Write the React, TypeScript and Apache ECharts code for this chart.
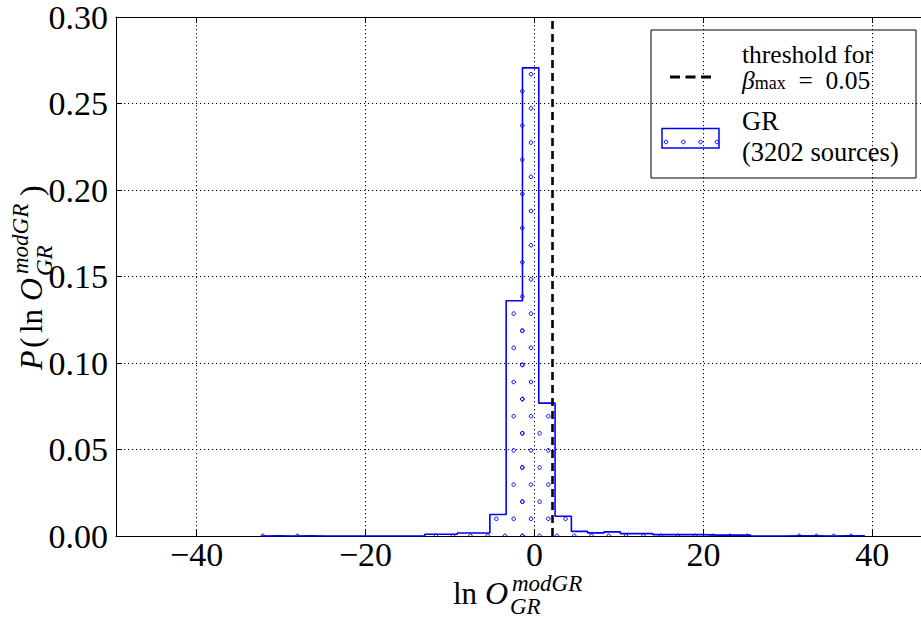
import React, { useEffect, useRef } from 'react';
import * as echarts from 'echarts';

// histogram bin edges (ln O) and normalised densities
const binEdges = [
  -32.3, -30.37, -28.44, -26.51, -24.58, -22.65, -20.72, -18.79, -16.86, -14.93,
  -13.0, -11.07, -9.14, -7.21, -5.28, -3.35, -1.42, 0.51, 2.44, 4.37,
  6.3, 8.23, 10.16, 12.09, 14.02, 15.95, 17.88, 19.81, 21.74, 23.67,
  25.6, 27.53, 29.46, 31.39, 33.32, 35.25, 37.18, 39.11,
];
const density = [
  0.00016, 0, 0.00016, 0, 0, 0, 0, 0, 0, 0,
  0.001, 0.001, 0.0017, 0.0017, 0.0124, 0.136, 0.2706, 0.0768, 0.0114, 0.0027,
  0.0018, 0.0024, 0.0014, 0.0014, 0.0008, 0.0008, 0.0008, 0.0005, 0.0005, 0.0005,
  0, 0, 0.00016, 0.00016, 0, 0.00016, 0.00016,
];
const threshold = 2.1;
const xTickValues = [-40, -20, 0, 20, 40];
const xMin = -49.54;
const xMax = 45.76;
const yMin = 0;
const yMax = 0.3;
const yInterval = 0.05;
const legendTexts = ['threshold for', 'GR', '(3202 sources)'];

const FONT = '"Liberation Serif", "DejaVu Serif", serif';
const BLUE = '#0000ff';

function mathText(x: number, y: number, text: string, size: number, italic: boolean, lh?: number) {
  return {
    type: 'text',
    x,
    y,
    style: {
      text,
      fontFamily: FONT,
      fontSize: size,
      fontStyle: italic ? 'italic' : 'normal',
      fill: '#000',
      verticalAlign: 'middle',
      align: 'left',
      lineHeight: lh ?? size,
    },
  };
}

export default function App() {
  const ref = useRef<HTMLDivElement>(null);
  useEffect(() => {
    if (!ref.current) return;
    const chart = echarts.init(ref.current, null, { renderer: 'svg' });

    const hatchData = density.map((v, i) => [binEdges[i], binEdges[i + 1], v]);
    const outline: number[][] = [[binEdges[0], 0]];
    density.forEach((v, i) => {
      outline.push([binEdges[i], v]);
      outline.push([binEdges[i + 1], v]);
    });
    outline.push([binEdges[binEdges.length - 1], 0]);

    const P = 17.3;
    const R = 17.1;

    const option: any = {
      animation: false,
      backgroundColor: '#fff',
      grid: { left: 116, top: 16, width: 806, height: 520 },
      xAxis: [
        {
          type: 'value',
          min: xMin,
          max: xMax,
          position: 'bottom',
          axisLine: { show: true, onZero: false, lineStyle: { color: '#000', width: 1 } },
          axisTick: { show: true, inside: true, length: 6, customValues: xTickValues, lineStyle: { color: '#000' } },
          axisLabel: {
            customValues: xTickValues,
            margin: 3,
            fontFamily: FONT,
            fontSize: 34,
            lineHeight: 30,
            color: '#000',
            formatter: (v: number) => (v < 0 ? '\u2212' + Math.abs(v) : String(v)),
          },
          splitLine: { show: true, lineStyle: { color: '#000', type: [1.2, 2.8], width: 1 } },
        },
        {
          type: 'value',
          min: xMin,
          max: xMax,
          position: 'top',
          axisLine: { show: true, onZero: false, lineStyle: { color: '#000', width: 1 } },
          axisTick: { show: true, inside: true, length: 6, customValues: xTickValues, lineStyle: { color: '#000' } },
          axisLabel: { show: false },
          splitLine: { show: false },
        },
      ],
      yAxis: {
        type: 'value',
        min: yMin,
        max: yMax,
        interval: yInterval,
        axisLine: { show: true, onZero: false, lineStyle: { color: '#000', width: 1 } },
        axisTick: { show: true, inside: true, length: 6, lineStyle: { color: '#000' } },
        axisLabel: {
          margin: 8,
          fontFamily: FONT,
          fontSize: 34,
          lineHeight: 28,
          color: '#000',
          formatter: (v: number) => v.toFixed(2),
        },
        splitLine: { show: true, lineStyle: { color: '#000', type: [1.2, 2.8], width: 1 } },
      },
      series: [
        {
          type: 'custom',
          clip: true,
          data: hatchData,
          encode: { x: [0, 1], y: 2 },
          renderItem: (params: any, api: any) => {
            const v = api.value(2);
            if (!(v > 0)) return null;
            const p0 = api.coord([api.value(0), v]);
            const p1 = api.coord([api.value(1), 0]);
            const left = p0[0];
            const right = p1[0];
            const top = p0[1];
            const cs = params.coordSys;
            const gx = cs.x;
            const gb = cs.y + cs.height;
            const children: any[] = [];
            for (let r = 0; ; r++) {
              const cy = gb - 0.1 - R * r;
              if (cy < top - 0.5) break;
              const off = r % 2 === 0 ? 8.4 : -0.2;
              const cStart = Math.floor((left - gx - off) / P);
              for (let c = cStart; ; c++) {
                const cx = gx + off + c * P;
                if (cx > right + 0.5) break;
                if (cx < left - 0.5) continue;
                children.push({
                  type: 'circle',
                  shape: { cx, cy, r: 1.8 },
                  style: { fill: 'none', stroke: BLUE, lineWidth: 1 },
                });
              }
            }
            return { type: 'group', children };
          },
          z: 3,
        },
        {
          type: 'line',
          data: outline,
          showSymbol: false,
          symbol: 'none',
          lineStyle: { color: BLUE, width: 1.6 },
          z: 4,
          markLine: {
            silent: true,
            symbol: 'none',
            label: { show: false },
            lineStyle: { color: '#000', type: [8, 5], width: 2.6 },
            data: [{ xAxis: threshold }],
          },
        },
      ],
      graphic: [
        // x axis name: ln O^{modGR}_{GR}
        {
          type: 'group',
          x: 453,
          y: 593,
          children: [
            mathText(0, 0, 'ln', 31, false, 28),
            mathText(32, 0, 'O', 32, true, 28),
            mathText(59, -10, 'modGR', 23, true, 18),
            mathText(57, 13, 'GR', 23, true, 18),
          ],
        },
        // y axis name: P(ln O^{modGR}_{GR})
        {
          type: 'group',
          x: 31,
          y: 370,
          rotation: Math.PI / 2,
          children: [
            mathText(0, 0, 'P', 32, true, 28),
            mathText(22, 0, '(', 32, false, 28),
            mathText(37, 0, 'ln', 31, false, 28),
            mathText(69, 0, 'O', 32, true, 28),
            mathText(96, -11, 'modGR', 23, true, 18),
            mathText(94, 13, 'GR', 23, true, 18),
            mathText(174, 0, ')', 32, false, 28),
          ],
        },
        // legend
        {
          type: 'group',
          z: 100,
          children: [
            {
              type: 'rect',
              shape: { x: 651, y: 30, width: 265, height: 148 },
              style: { fill: '#fff', stroke: '#000', lineWidth: 1 },
            },
            {
              type: 'line',
              shape: { x1: 670, y1: 77, x2: 711, y2: 77 },
              style: { stroke: '#000', lineWidth: 3, lineDash: [10, 5.5] },
            },
            mathText(742, 54, legendTexts[0], 25.5, false, 22),
            {
              type: 'text',
              x: 742,
              y: 80.5,
              style: {
                text: '{b|\u03B2}{s|max}{n|\u2002=\u20020.05}',
                verticalAlign: 'middle',
                rich: {
                  b: { fontFamily: FONT, fontSize: 25.5, fontStyle: 'italic', fill: '#000', verticalAlign: 'middle', lineHeight: 22 },
                  s: { fontFamily: FONT, fontSize: 18, fill: '#000', padding: [10, 0, 0, 0], verticalAlign: 'bottom', lineHeight: 14 },
                  n: { fontFamily: FONT, fontSize: 25.5, fill: '#000', verticalAlign: 'middle', lineHeight: 22 },
                },
              },
            },
            {
              type: 'rect',
              shape: { x: 662, y: 128.5, width: 57, height: 19.5 },
              style: { fill: 'none', stroke: BLUE, lineWidth: 1.5 },
            },
            ...[666, 683.3, 700.6, 717].map((cx) => ({
              type: 'circle',
              shape: { cx, cy: 142, r: 1.8 },
              style: { fill: 'none', stroke: BLUE, lineWidth: 1 },
            })),
            mathText(742, 121, legendTexts[1], 26.5, false, 24),
            mathText(742, 152, legendTexts[2], 26.5, false, 24),
          ],
        },
      ],
    };
    chart.setOption(option);
    return () => chart.dispose();
  }, []);
  return (
    <div
      ref={ref}
      style={{ position: 'fixed', left: 0, top: 0, width: 921, height: 619, background: '#fff' }}
    />
  );
}
